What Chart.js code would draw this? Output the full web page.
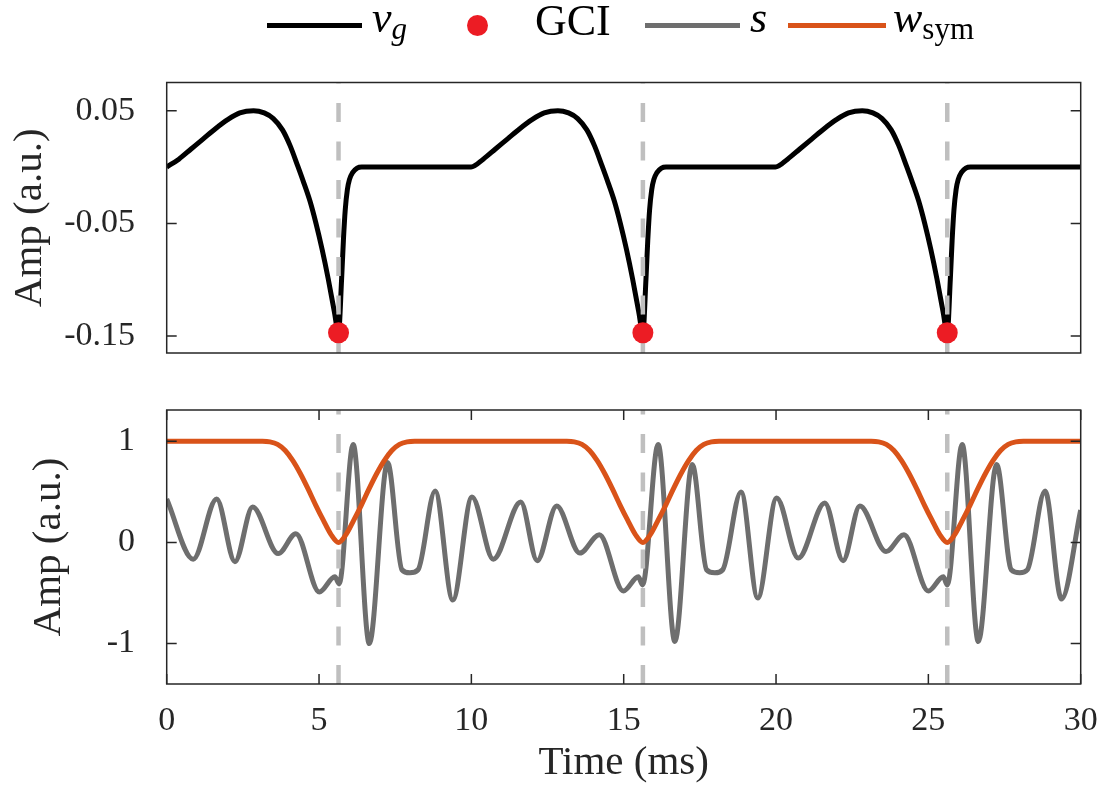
<!DOCTYPE html>
<html lang="en">
<head>
<meta charset="UTF-8">
<meta name="viewport" content="width=device-width, initial-scale=1.0">
<title>Glottal flow, GCI and windowed signal</title>
<script src="https://cdn.jsdelivr.net/npm/chart.js@4.4.1/dist/chart.umd.min.js"></script>
<style>
    body { margin: 0; background: #ffffff; }
    #fig { position: relative; width: 1100px; height: 787px; overflow: hidden;
        font-family: "Liberation Serif", "Times New Roman", serif; color: #000; }
    #fig canvas { position: absolute; left: 0; }
    .key-line { position: absolute; top: 22.5px; height: 5px; width: 95px; }
    .key-txt { position: absolute; font-size: 44px; line-height: 44px; white-space: nowrap; }
    .key-sub { font-size: 31px; position: relative; top: 7px; }
</style>
</head>
<body>
<div id="fig">
    <canvas id="topChart" width="1100" height="390" style="top:0;"></canvas>
    <canvas id="bottomChart" width="1100" height="397" style="top:390px;"></canvas>

    <!-- legend -->
    <div class="key-line" style="left:267px; background:#000000;"></div>
    <div class="key-txt" style="left:372px; top:-3.6px;"><i>v</i><i class="key-sub">g</i></div>
    <div style="position:absolute; left:466.5px; top:14.5px; width:21px; height:21px; border-radius:50%; background:#EC1C24;"></div>
    <div class="key-txt" style="left:535px; top:-0.9px;">GCI</div>
    <div class="key-line" style="left:645px; background:#6E6E6E;"></div>
    <div class="key-txt" style="left:750px; top:-3.6px;"><i>s</i></div>
    <div class="key-line" style="left:788px; width:98px; background:#D95319;"></div>
    <div class="key-txt" style="left:893px; top:-3.6px;"><i>w</i><span class="key-sub">sym</span></div>
</div>

<script>
    // glottal closure instants (ms) and the v_g value there
    const gciTime = [5.64, 15.63, 25.62];
    const gciValue = [-0.147, -0.147, -0.147];

    // glottal flow derivative v_g
    const vgTime = [
        0, 0.4, 0.8, 1.2, 1.6, 2.0, 2.4, 2.85, 3.2, 3.5, 3.8, 4.05, 4.3, 4.5, 4.7, 4.9, 5.1, 5.3, 5.5, 5.64, 5.74, 5.8, 5.86, 5.93, 6.0, 6.1, 6.25, 6.4,
        9.99, 10.39, 10.79, 11.19, 11.59, 11.99, 12.39, 12.84, 13.19, 13.49, 13.79, 14.04, 14.29, 14.49, 14.69, 14.89, 15.09, 15.29, 15.49, 15.63, 15.73, 15.79, 15.85, 15.92, 15.99, 16.09, 16.24, 16.39,
        19.98, 20.38, 20.78, 21.18, 21.58, 21.98, 22.38, 22.83, 23.18, 23.48, 23.78, 24.03, 24.28, 24.48, 24.68, 24.88, 25.08, 25.28, 25.48, 25.62, 25.72, 25.78, 25.84, 25.91, 25.98, 26.08, 26.23, 26.38,
        30
    ];
    const vgValue = [
        0, 0.007, 0.016, 0.025, 0.034, 0.042, 0.048, 0.050, 0.048, 0.043, 0.033, 0.019, 0.001, -0.014, -0.030, -0.050, -0.073, -0.099, -0.128, -0.147, -0.100, -0.065, -0.038, -0.020, -0.011, -0.005, -0.001, 0,
        0, 0.007, 0.016, 0.025, 0.034, 0.042, 0.048, 0.050, 0.048, 0.043, 0.033, 0.019, 0.001, -0.014, -0.030, -0.050, -0.073, -0.099, -0.128, -0.147, -0.100, -0.065, -0.038, -0.020, -0.011, -0.005, -0.001, 0,
        0, 0.007, 0.016, 0.025, 0.034, 0.042, 0.048, 0.050, 0.048, 0.043, 0.033, 0.019, 0.001, -0.014, -0.030, -0.050, -0.073, -0.099, -0.128, -0.147, -0.100, -0.065, -0.038, -0.020, -0.011, -0.005, -0.001, 0,
        0
    ];

    // signal s (turning points)
    const sTime = [
        0, 0.87, 1.64, 2.24, 2.82, 3.66, 4.24, 5.01, 5.52, 5.66, 6.12, 6.65, 7.25, 7.72, 7.98, 8.25, 8.81, 9.39,
        10.02, 10.72, 11.62, 12.16, 12.80, 13.56, 14.20, 14.99, 15.48, 15.62, 16.13, 16.68, 17.25, 17.72, 17.99, 18.25, 18.85, 19.40,
        20.02, 20.73, 21.60, 22.20, 22.75, 23.61, 24.20, 25.00, 25.49, 25.62, 26.11, 26.64, 27.24, 27.72, 28.00, 28.25, 28.83, 29.37, 30
    ];
    const sValue = [
        0.43, -0.165, 0.43, -0.19, 0.35, -0.11, 0.086, -0.49, -0.34, -0.41, 0.97, -1.0, 0.79, -0.27, -0.30, -0.27, 0.51, -0.57,
        0.45, -0.165, 0.40, -0.18, 0.36, -0.105, 0.076, -0.48, -0.34, -0.42, 0.97, -0.98, 0.77, -0.27, -0.30, -0.27, 0.50, -0.55,
        0.44, -0.155, 0.39, -0.18, 0.36, -0.09, 0.076, -0.48, -0.34, -0.42, 0.97, -0.98, 0.77, -0.27, -0.30, -0.27, 0.51, -0.56, 0.32
    ];

    // symmetric window w_sym
    const wTime = [
        0,
        3.14, 3.39, 3.64, 3.89, 4.14, 4.39, 4.64, 4.89, 5.14, 5.39, 5.64, 5.89, 6.14, 6.39, 6.64, 6.89, 7.14, 7.39, 7.64, 7.89, 8.14,
        13.13, 13.38, 13.63, 13.88, 14.13, 14.38, 14.63, 14.88, 15.13, 15.38, 15.63, 15.88, 16.13, 16.38, 16.63, 16.88, 17.13, 17.38, 17.63, 17.88, 18.13,
        23.12, 23.37, 23.62, 23.87, 24.12, 24.37, 24.62, 24.87, 25.12, 25.37, 25.62, 25.87, 26.12, 26.37, 26.62, 26.87, 27.12, 27.37, 27.62, 27.87, 28.12,
        30
    ];
    const wValue = [
        1,
        1.0, 0.995, 0.97, 0.91, 0.81, 0.68, 0.53, 0.37, 0.22, 0.08, 0.0, 0.08, 0.22, 0.37, 0.53, 0.68, 0.81, 0.91, 0.97, 0.995, 1.0,
        1.0, 0.995, 0.97, 0.91, 0.81, 0.68, 0.53, 0.37, 0.22, 0.08, 0.0, 0.08, 0.22, 0.37, 0.53, 0.68, 0.81, 0.91, 0.97, 0.995, 1.0,
        1.0, 0.995, 0.97, 0.91, 0.81, 0.68, 0.53, 0.37, 0.22, 0.08, 0.0, 0.08, 0.22, 0.37, 0.53, 0.68, 0.81, 0.91, 0.97, 0.995, 1.0,
        1
    ];

    const xTicks = [0, 5, 10, 15, 20, 25, 30];
    const yTicksTop = [0.05, -0.05, -0.15];
    const yTicksBottom = [1, 0, -1];
    const yTopRange = [-0.165, 0.075];
    const yBottomRange = [-1.4, 1.31];

    const FONT = '"Liberation Serif", "Times New Roman", serif';
    const AXIS = '#262626';

    const pts = (xs, ys) => xs.map((x, i) => ({ x: x, y: ys[i] }));

    // matlab style box with inward ticks
    const axesBox = {
        id: 'axesBox',
        afterDraw(chart, args, opts) {
            const { ctx, chartArea: a, scales } = chart;
            const len = 10;
            ctx.save();
            ctx.strokeStyle = AXIS;
            ctx.lineWidth = 1.5;
            ctx.strokeRect(a.left, a.top, a.right - a.left, a.bottom - a.top);
            ctx.beginPath();
            scales.y.ticks.forEach(t => {
                const py = scales.y.getPixelForValue(t.value);
                ctx.moveTo(a.left, py); ctx.lineTo(a.left + len, py);
                ctx.moveTo(a.right, py); ctx.lineTo(a.right - len, py);
            });
            if (opts.xTicks) {
                scales.x.ticks.forEach(t => {
                    const px = scales.x.getPixelForValue(t.value);
                    ctx.moveTo(px, a.bottom); ctx.lineTo(px, a.bottom - len);
                    ctx.moveTo(px, a.top); ctx.lineTo(px, a.top + len);
                });
            }
            ctx.stroke();
            ctx.restore();
        }
    };

    function gciLines(range) {
        return gciTime.map(g => ({
            data: [{ x: g, y: range[0] }, { x: g, y: range[1] }],
            borderColor: '#BFBFBF',
            borderWidth: 4.5,
            borderDash: [19, 19.5],
            pointRadius: 0,
            tension: 0,
            order: 1
        }));
    }

    function yScale(range, ticks, fmt, titlePad) {
        return {
            type: 'linear',
            min: range[0],
            max: range[1],
            afterBuildTicks: s => { s.ticks = ticks.map(v => ({ value: v })); },
            afterFit: s => { s.width = 166.7; s.paddingTop = 0; s.paddingBottom = 0; },
            grid: { display: false, drawTicks: false },
            border: { display: false },
            ticks: { padding: 31.7, color: AXIS, font: { family: FONT, size: 34 }, callback: fmt },
            title: { display: true, text: 'Amp (a.u.)', color: AXIS, font: { family: FONT, size: 41 }, padding: { top: titlePad, bottom: 0 } }
        };
    }

    const common = {
        responsive: false,
        animation: false,
        devicePixelRatio: 1,
        events: []
    };

    new Chart(document.getElementById('topChart'), {
        type: 'line',
        data: {
            datasets: [
                { data: pts(gciTime, gciValue), showLine: false, pointRadius: 10.5, pointBackgroundColor: '#EC1C24', pointBorderWidth: 0, order: 0 },
                ...gciLines(yTopRange),
                { data: pts(vgTime, vgValue), borderColor: '#000000', borderWidth: 5, pointRadius: 0, cubicInterpolationMode: 'monotone', borderJoinStyle: 'round', order: 2 }
            ]
        },
        options: {
            ...common,
            layout: { padding: { top: 82.5, bottom: 37, left: 0, right: 19.3 } },
            plugins: { legend: { display: false }, tooltip: { enabled: false }, axesBox: { xTicks: false } },
            scales: {
                x: { type: 'linear', min: 0, max: 30, display: false },
                y: yScale(yTopRange, yTicksTop, v => v.toFixed(2), 5.4)
            }
        },
        plugins: [axesBox]
    });

    new Chart(document.getElementById('bottomChart'), {
        type: 'line',
        data: {
            datasets: [
                ...gciLines(yBottomRange).map(d => ({ ...d, order: 0 })),
                { data: pts(wTime, wValue), borderColor: '#D95319', borderWidth: 5, pointRadius: 0, cubicInterpolationMode: 'monotone', order: 1 },
                { data: pts(sTime, sValue), borderColor: '#6E6E6E', borderWidth: 5, pointRadius: 0, cubicInterpolationMode: 'monotone', borderJoinStyle: 'round', order: 2 }
            ]
        },
        options: {
            ...common,
            layout: { padding: { top: 20, bottom: 0, left: 0, right: 19.3 } },
            plugins: { legend: { display: false }, tooltip: { enabled: false }, axesBox: { xTicks: true } },
            scales: {
                x: {
                    type: 'linear',
                    min: 0,
                    max: 30,
                    afterBuildTicks: s => { s.ticks = xTicks.map(v => ({ value: v })); },
                    afterFit: s => { s.height = 103; s.paddingLeft = 0; s.paddingRight = 0; },
                    grid: { display: false, drawTicks: false },
                    border: { display: false },
                    ticks: { padding: 17, color: AXIS, maxRotation: 0, font: { family: FONT, size: 34 }, callback: v => String(v) },
                    title: { display: true, text: 'Time (ms)', color: AXIS, font: { family: FONT, size: 41, lineHeight: 1 }, padding: { top: 0, bottom: 3.2 } }
                },
                y: yScale(yBottomRange, yTicksBottom, v => String(v), 25)
            }
        },
        plugins: [axesBox]
    });
</script>
</body>
</html>
